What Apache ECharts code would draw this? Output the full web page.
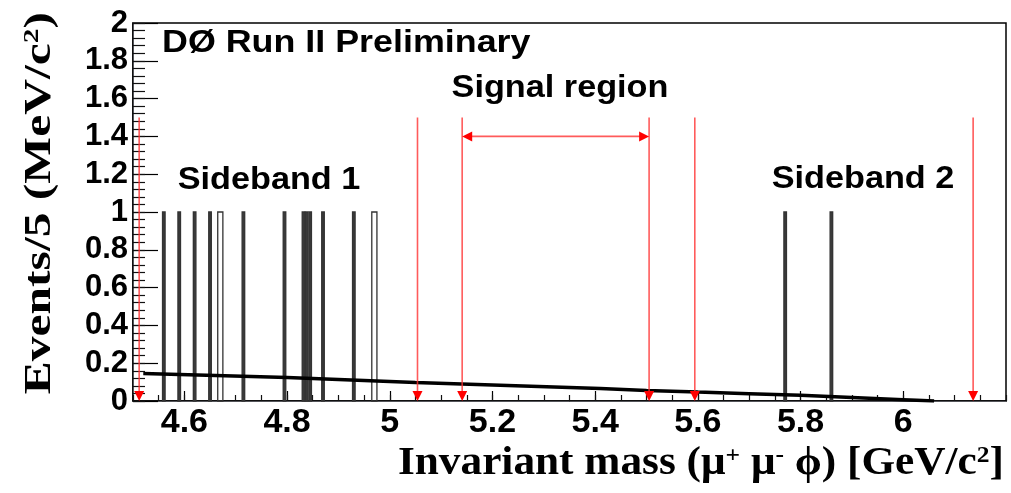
<!DOCTYPE html>
<html>
<head>
<meta charset="utf-8">
<script src="https://cdn.jsdelivr.net/npm/echarts@6/dist/echarts.min.js"></script>
<style>
  html, body { margin: 0; padding: 0; background: #fff; }
  #main { width: 1011px; height: 493px; }
</style>
</head>
<body>
<div id="main"></div>
<script>
// candidate masses (GeV), one entry per filled 5 MeV bin, each bin holds 1 event
const eventMass = [4.56, 4.59, 4.62, 4.65, 4.6675, 4.6725, 4.715, 4.795, 4.832, 4.838, 4.845,
  4.87, 4.93, 4.9675, 4.9725, 5.77, 5.86];
const binWidth = 0.005;

// background fit curve
const fitMass = [4.52, 4.8, 5.05, 5.14, 5.41, 5.5, 5.6, 5.8, 6.0, 6.06];
const fitValue = [0.145, 0.124, 0.098, 0.09, 0.066, 0.056, 0.047, 0.03, 0.007, 0];

// sideband / signal region edges (GeV)
const regionEdges = [4.512, 5.054, 5.141, 5.505, 5.594, 6.136];
const arrowTop = 1.5;
const signalArrow = [5.141, 5.505, 1.4];

const xLabels = [4.6, 4.8, 5.0, 5.2, 5.4, 5.6, 5.8, 6.0];

// merge adjacent bins into one outlined block, like a ROOT histogram
const sorted = eventMass.slice().sort((a, b) => a - b);
let runs = [];
sorted.forEach(m => {
  let last = runs[runs.length - 1];
  if (last && m - last.end <= binWidth * 1.05) {
    last.end = m;
    last.n++;
  } else {
    runs.push({ start: m, end: m, n: 1 });
  }
});
const histData = runs.map(r => [r.start - binWidth / 2, r.end + binWidth / 2, 1, r.n]);

const chart = echarts.init(document.getElementById('main'));

const sans = 'Liberation Sans';
const serif = 'Liberation Serif';

let option = {
  animation: false,
  grid: {
    left: 133, right: 5, top: 23, bottom: 92,
    show: true, borderColor: '#000', borderWidth: 1.5
  },
  xAxis: [{
    type: 'value',
    min: 4.5, max: 6.2,
    position: 'bottom',
    splitLine: { show: false },
    axisLine: { show: true, lineStyle: { color: '#000', width: 1.5 } },
    axisTick: { show: true, inside: true, length: 10, customValues: xLabels, lineStyle: { color: '#000', width: 1.2 } },
    axisLabel: {
      customValues: xLabels,
      color: '#000', fontFamily: sans, fontWeight: 'bold', fontSize: 34, margin: 5
    }
  }, {
    // minor ticks every 50 MeV
    type: 'value',
    min: 4.5, max: 6.2, interval: 0.05,
    position: 'bottom',
    splitLine: { show: false },
    axisTick: { show: true, inside: true, length: 6, lineStyle: { color: '#111', width: 1.2 } },
    axisLabel: { show: false }
  }],
  yAxis: [{
    type: 'value',
    min: 0, max: 2, interval: 0.2,
    position: 'left',
    splitLine: { show: false },
    axisLine: { show: true, lineStyle: { color: '#000', width: 1.5 } },
    axisTick: { show: true, inside: true, length: 25, lineStyle: { color: '#000', width: 1.2 } },
    axisLabel: { color: '#000', fontFamily: sans, fontWeight: 'bold', fontSize: 31, margin: 5 }
  }, {
    type: 'value',
    min: 0, max: 2, interval: 0.04,
    position: 'left',
    splitLine: { show: false },
    axisTick: { show: true, inside: true, length: 12, lineStyle: { color: '#111', width: 1.2 } },
    axisLabel: { show: false }
  }],
  series: [{
    name: 'data',
    type: 'custom',
    data: histData,
    renderItem: function (params, api) {
      const p0 = api.coord([api.value(0), api.value(2)]);
      const p1 = api.coord([api.value(1), 0]);
      const single = api.value(3) === 1;
      return {
        type: 'rect',
        shape: { x: p0[0], y: p0[1], width: p1[0] - p0[0], height: p1[1] - p0[1] },
        style: { fill: single ? '#3a3a3a' : 'none', stroke: '#333', lineWidth: 1.3 }
      };
    },
    z: 2
  }, {
    name: 'fit',
    type: 'line',
    data: fitMass.map((m, i) => [m, fitValue[i]]),
    smooth: 0.3,
    symbol: 'none',
    lineStyle: { color: '#000', width: 3.5 },
    z: 3
  }, {
    name: 'edges',
    type: 'custom',
    data: regionEdges.map(x => [x, arrowTop, 0]),
    renderItem: function (params, api) {
      const top = api.coord([api.value(0), api.value(1)]);
      const bot = api.coord([api.value(0), api.value(2)]);
      return {
        type: 'group',
        children: [{
          type: 'line',
          shape: { x1: top[0], y1: top[1], x2: bot[0], y2: bot[1] - 8 },
          style: { stroke: 'rgba(255,50,50,0.8)', lineWidth: 1.6 }
        }, {
          type: 'polygon',
          shape: { points: [[bot[0] - 5, bot[1] - 10], [bot[0] + 5, bot[1] - 10], [bot[0], bot[1]]] },
          style: { fill: '#ff0000' }
        }]
      };
    },
    z: 4
  }, {
    name: 'signal',
    type: 'custom',
    data: [signalArrow],
    renderItem: function (params, api) {
      const a = api.coord([api.value(0), api.value(2)]);
      const b = api.coord([api.value(1), api.value(2)]);
      return {
        type: 'group',
        children: [{
          type: 'line',
          shape: { x1: a[0] + 8, y1: a[1], x2: b[0] - 8, y2: b[1] },
          style: { stroke: 'rgba(255,50,50,0.8)', lineWidth: 1.6 }
        }, {
          type: 'polygon',
          shape: { points: [[a[0], a[1]], [a[0] + 10, a[1] - 5], [a[0] + 10, a[1] + 5]] },
          style: { fill: '#ff0000' }
        }, {
          type: 'polygon',
          shape: { points: [[b[0], b[1]], [b[0] - 10, b[1] - 5], [b[0] - 10, b[1] + 5]] },
          style: { fill: '#ff0000' }
        }]
      };
    },
    z: 4
  }],
  graphic: [{
    type: 'text', x: 162, y: 43, scaleX: 1.12,
    style: { text: 'DØ Run II Preliminary', font: 'bold 32px "Liberation Sans"', fill: '#000', align: 'left', verticalAlign: 'middle' }
  }, {
    type: 'text', x: 560, y: 88, scaleX: 1.07,
    style: { text: 'Signal region', font: 'bold 32px "Liberation Sans"', fill: '#000', align: 'center', verticalAlign: 'middle' }
  }, {
    type: 'text', x: 269, y: 180, scaleX: 1.07,
    style: { text: 'Sideband 1', font: 'bold 32px "Liberation Sans"', fill: '#000', align: 'center', verticalAlign: 'middle' }
  }, {
    type: 'text', x: 863, y: 179, scaleX: 1.07,
    style: { text: 'Sideband 2', font: 'bold 32px "Liberation Sans"', fill: '#000', align: 'center', verticalAlign: 'middle' }
  }, {
    // y axis title, reads bottom to top, ends at the top of the frame
    type: 'text', x: 40, y: 12, rotation: Math.PI / 2, scaleX: 1.34,
    style: {
      text: '{t|Events/5 (MeV/c}{s|2}{t|)}', align: 'right', verticalAlign: 'middle',
      rich: {
        t: { fontFamily: serif, fontWeight: 'bold', fontSize: 37, fill: '#000' },
        s: { fontFamily: serif, fontWeight: 'bold', fontSize: 22, fill: '#000', verticalAlign: 'top' }
      }
    }
  }, {
    type: 'text', x: 1004, y: 464, scaleX: 1.11,
    style: {
      text: '{t|Invariant mass (μ}{s|+}{t| μ}{s|-}{t| ϕ) [GeV/c}{s|2}{t|]}', align: 'right', verticalAlign: 'middle',
      rich: {
        t: { fontFamily: serif, fontWeight: 'bold', fontSize: 39, fill: '#000' },
        s: { fontFamily: serif, fontWeight: 'bold', fontSize: 23, fill: '#000', verticalAlign: 'top' }
      }
    }
  }]
};

chart.setOption(option);
</script>
</body>
</html>
